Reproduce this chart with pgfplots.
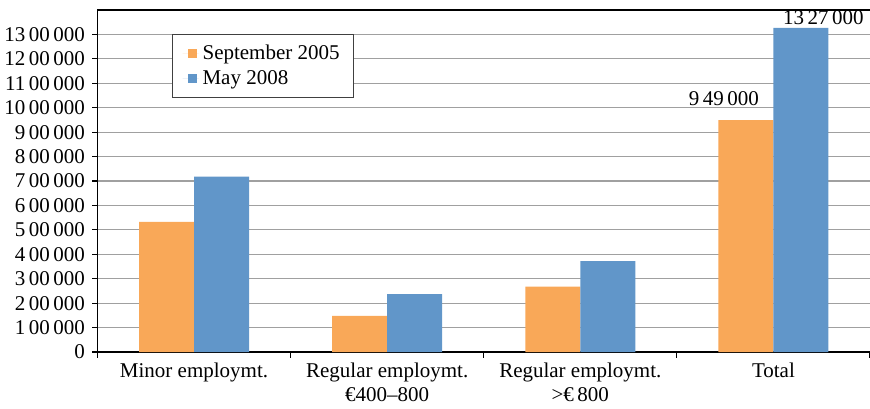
\documentclass[border=0pt]{standalone}
\usepackage{fontspec}
\setmainfont{Liberation Serif}
\usepackage{pgfplots}
\pgfplotsset{compat=1.18}
\definecolor{sep}{RGB}{249,168,88}
\definecolor{may}{RGB}{97,150,201}
\definecolor{gridc}{RGB}{160,160,160}
\begin{document}
\begin{tikzpicture}[font=\fontsize{10.5}{12.5}\selectfont]
\path[use as bounding box] (-48.75pt,-28pt) rectangle (386.25pt,176pt);
\begin{axis}[
  at={(0pt,0pt)}, anchor=south west,
  scale only axis, width=387.5pt, height=171pt,
  xmin=-0.5, xmax=3.512945, ymin=0, ymax=1400000,
  ybar=0pt, bar width=27.5pt,
  axis line style={black, line width=0.7pt},
  tick align=outside, tick pos=left,
  major tick length=2.75pt,
  tick style={black, line width=0.6pt},
  xtick={-0.5,0.5,1.5,2.5,3.5}, xticklabels={},
  extra x ticks={0,1,2,3},
  extra x tick labels={Minor employmt.,Regular employmt.\\€400–800,Regular employmt.\\>€\,800,Total},
  extra x tick style={major tick length=0pt, tick style={draw=none}},
  xticklabel style={align=center, font=\fontsize{10.5}{12}\selectfont, yshift=-2pt},
  ytick={0,100000,...,1300000},
  yticklabels={\mbox{0},\mbox{1\,00\,000},\mbox{2\,00\,000},\mbox{3\,00\,000},\mbox{4\,00\,000},\mbox{5\,00\,000},\mbox{6\,00\,000},\mbox{7\,00\,000},\mbox{8\,00\,000},\mbox{9\,00\,000},\mbox{10\,00\,000},\mbox{11\,00\,000},\mbox{12\,00\,000},\mbox{13\,00\,000}},
  scaled y ticks=false,
  ymajorgrids, grid style={draw=gridc, line width=0.6pt},
  legend style={at={(axis description cs:0.0961,0.9298)}, anchor=north west,
    draw=black!75, line width=0.6pt, inner xsep=5pt, inner ysep=3pt,
    row sep=0pt, font=\fontsize{10.5}{12.5}\selectfont},
  legend cell align=left,
  legend image code/.code={\path (0pt,0pt) -- (8pt,0pt);\fill[#1] (2.5pt,-2.25pt) rectangle (7pt,2.25pt);},
]
\addplot[fill=sep, draw=none] coordinates {(0,533000) (1,148000) (2,268000) (3,949000)};
\addplot[fill=may, draw=none] coordinates {(0,718000) (1,237000) (2,372000) (3,1327000)};
\legend{September 2005, May 2008}
\node[anchor=base, xshift=-24.75pt, yshift=7.5pt, inner sep=0pt] at (axis cs:3,949000) {\mbox{9\,49\,000}};
\node[anchor=base, xshift=25pt, yshift=1.5pt, inner sep=0pt] at (axis cs:3,1327000) {\mbox{13\,27\,000}};
\end{axis}
\end{tikzpicture}
\end{document}
